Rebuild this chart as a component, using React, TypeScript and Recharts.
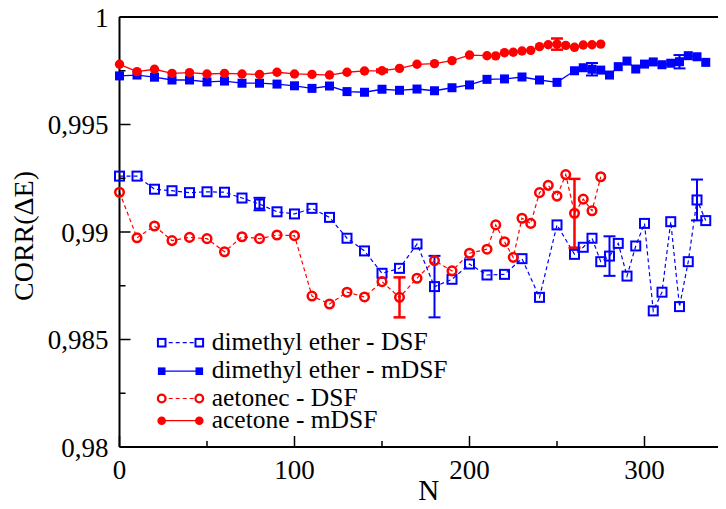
import React from 'react';
import { ComposedChart, Line, XAxis, YAxis, ErrorBar, Label } from 'recharts';

const BLUE = '#0000ff';
const RED = '#ff0000';
const FONT = "'Liberation Serif', 'Times New Roman', Times, 'DejaVu Serif', serif";

// N values (blue runs to 335, red to 275)
const nBlue = [
  0, 10, 20, 30, 40, 50, 60, 70, 80, 90, 100, 110, 120, 130, 140, 150, 160, 170, 180, 190, 200, 210,
  220, 230, 240, 250, 260, 265, 270, 275, 280, 285, 290, 295, 300, 305, 310, 315, 320, 325, 330, 335,
];
const nRed = [
  0, 10, 20, 30, 40, 50, 60, 70, 80, 90, 100, 110, 120, 130, 140, 150, 160, 170, 180, 190, 200, 210,
  215, 220, 225, 230, 235, 240, 245, 250, 255, 260, 265, 270, 275,
];

const etherDsf = [
  0.9926, 0.9926, 0.99199, 0.99192, 0.99183, 0.99187, 0.99185, 0.99158, 0.9913, 0.99094, 0.99084,
  0.9911, 0.99068, 0.98971, 0.98912, 0.98808, 0.98831, 0.98944, 0.98746, 0.9878, 0.98851, 0.988,
  0.98803, 0.98876, 0.98696, 0.99033, 0.98896, 0.98929, 0.98971, 0.98862, 0.98888, 0.98947, 0.98795,
  0.98935, 0.9904, 0.98633, 0.9872, 0.99048, 0.98653, 0.98862, 0.99149, 0.99053,
];
const etherMdsf = [
  0.99726, 0.9973, 0.9972, 0.99707, 0.99707, 0.99698, 0.99702, 0.99692, 0.99692, 0.99688, 0.9968,
  0.99668, 0.99679, 0.99653, 0.9965, 0.99664, 0.99659, 0.99665, 0.99657, 0.99671, 0.99684, 0.9971,
  0.99712, 0.99721, 0.99707, 0.99696, 0.9975, 0.99764, 0.99757, 0.99753, 0.9973, 0.99769, 0.99795,
  0.99758, 0.99781, 0.99791, 0.99778, 0.99785, 0.99792, 0.9982, 0.99815, 0.99789,
];
const acetoneDsf = [
  0.99185, 0.98973, 0.99028, 0.9896, 0.98975, 0.98969, 0.98908, 0.98978, 0.98969, 0.98986, 0.98983,
  0.98702, 0.98665, 0.9872, 0.98698, 0.98769, 0.98696, 0.98785, 0.98867, 0.98819, 0.98901, 0.9892,
  0.99033, 0.98955, 0.98882, 0.99064, 0.9904, 0.99183, 0.99217, 0.99167, 0.99267, 0.99087, 0.99153,
  0.99099, 0.99257,
];
const acetoneMdsf = [
  0.9978, 0.99746, 0.99757, 0.99738, 0.99741, 0.99735, 0.99738, 0.99735, 0.99733, 0.99743, 0.99735,
  0.99733, 0.9973, 0.99743, 0.99749, 0.9975, 0.99761, 0.9978, 0.99783, 0.99797, 0.99823, 0.9982,
  0.99819, 0.99834, 0.99836, 0.99842, 0.99845, 0.99862, 0.99871, 0.99874, 0.99868, 0.99859, 0.9987,
  0.99871, 0.99874,
];

// [N, error] pairs
const etherDsfErr: [number, number][] = [[80, 0.00029], [180, 0.00143], [280, 0.00092], [330, 0.00095]];
const etherMdsfErr: [number, number][] = [[270, 0.00029], [320, 0.00031]];
const acetoneDsfErr: [number, number][] = [[160, 0.00093], [260, 0.0016]];
const acetoneMdsfErr: [number, number][] = [[150, 0.00006], [250, 0.00026]];

const xTicks = [0, 50, 100, 150, 200, 250, 300];
const xMajor = [0, 100, 200, 300];
const yTicks = [0.98, 0.9825, 0.985, 0.9875, 0.99, 0.9925, 0.995, 0.9975, 1];
const yMajor = [0.98, 0.985, 0.99, 0.995, 1];

const seriesNames = [
  'dimethyl ether - DSF',
  'dimethyl ether - mDSF',
  'aetonec - DSF',
  'acetone - mDSF',
];

const build = (ns: number[], vs: number[], errs: [number, number][]) =>
  ns.map((n, i) => {
    const e = errs.find((p) => p[0] === n);
    return { n, v: vs[i], err: e ? e[1] : null };
  });

const etherDsfData = build(nBlue, etherDsf, etherDsfErr);
const etherMdsfData = build(nBlue, etherMdsf, etherMdsfErr);
const acetoneDsfData = build(nRed, acetoneDsf, acetoneDsfErr);
const acetoneMdsfData = build(nRed, acetoneMdsf, acetoneMdsfErr);

const isMajor = (list: number[], v: number) => list.some((m) => Math.abs(m - v) < 1e-9);
const fmt = (v: number) => String(+v.toFixed(4)).replace('.', ',');

const txt = (size: number): React.CSSProperties => ({ fontFamily: FONT, fontSize: size });

const BottomTick = (p: any) => {
  const { x, y, payload } = p;
  const major = isMajor(xMajor, payload.value);
  return (
    <g>
      <line x1={x} y1={y} x2={x} y2={y - (major ? 11 : 6)} stroke="#000" strokeWidth={1.5} />
      {major && (
        <text x={x} y={y + 32} textAnchor="middle" fill="#000" fontFamily={FONT} style={txt(27)}>
          {payload.value}
        </text>
      )}
    </g>
  );
};

const TopTick = (p: any) => {
  const { x, y, payload } = p;
  const major = isMajor(xMajor, payload.value);
  return <line x1={x} y1={y} x2={x} y2={y + (major ? 11 : 6)} stroke="#000" strokeWidth={1.5} />;
};

const LeftTick = (p: any) => {
  const { x, y, payload } = p;
  const major = isMajor(yMajor, payload.value);
  return (
    <g>
      <line x1={x} y1={y} x2={x + (major ? 11 : 6)} y2={y} stroke="#000" strokeWidth={1.5} />
      {major && (
        <text x={x - 11} y={y + 9.5} textAnchor="end" fill="#000" fontFamily={FONT} style={txt(27)}>
          {fmt(payload.value)}
        </text>
      )}
    </g>
  );
};

const RightTick = (p: any) => {
  const { x, y, payload } = p;
  const major = isMajor(yMajor, payload.value);
  return <line x1={x} y1={y} x2={x - (major ? 11 : 6)} y2={y} stroke="#000" strokeWidth={1.5} />;
};

const XTitle = (p: any) => {
  const { viewBox } = p;
  return (
    <text x={viewBox.x + viewBox.width / 2 + 3} y={viewBox.y + 53} textAnchor="middle" fill="#000" fontFamily={FONT} style={txt(29)}>
      N
    </text>
  );
};

const YTitle = (p: any) => {
  const { viewBox } = p;
  const cx = 23;
  const cy = viewBox.y + viewBox.height / 2 + 4;
  return (
    <text
      x={cx}
      y={cy}
      transform={`rotate(-90 ${cx} ${cy})`}
      textAnchor="middle"
      dominantBaseline="central"
      fill="#000"
      fontFamily={FONT}
      style={txt(28)}
    >
      CORR(ΔE)
    </text>
  );
};

const OpenSquare = (p: any) => {
  const { cx, cy, index } = p;
  if (cx == null || cy == null) return <g key={`os-${index}`} />;
  return <rect key={`os-${index}`} x={cx - 4.5} y={cy - 4.5} width={9} height={9} fill="none" stroke={BLUE} strokeWidth={2} />;
};
const FilledSquare = (p: any) => {
  const { cx, cy, index } = p;
  if (cx == null || cy == null) return <g key={`fs-${index}`} />;
  return <rect key={`fs-${index}`} x={cx - 4.5} y={cy - 4.5} width={9} height={9} fill={BLUE} />;
};
const OpenCircle = (p: any) => {
  const { cx, cy, index } = p;
  if (cx == null || cy == null) return <g key={`oc-${index}`} />;
  return <circle key={`oc-${index}`} cx={cx} cy={cy} r={4.3} fill="none" stroke={RED} strokeWidth={2.5} />;
};
const FilledCircle = (p: any) => {
  const { cx, cy, index } = p;
  if (cx == null || cy == null) return <g key={`fc-${index}`} />;
  return <circle key={`fc-${index}`} cx={cx} cy={cy} r={4.7} fill={RED} />;
};

const LegendBox = () => {
  const rowY = [342.7, 371.2, 398.5, 420.7];
  const x1 = 161.7;
  const x2 = 199.3;
  return (
    <svg width={726} height={509} style={{ position: 'absolute', left: 0, top: 0, pointerEvents: 'none' }}>
      {seriesNames.map((name, i) => {
        const y = rowY[i];
        const color = i < 2 ? BLUE : RED;
        const dashed = i % 2 === 0;
        return (
          <g key={name}>
            <line x1={x1} y1={y} x2={x2} y2={y} stroke={color} strokeWidth={1.2} strokeDasharray={dashed ? '4 3' : undefined} />
            {[x1, x2].map((mx) =>
              i === 0 ? (
                <rect key={mx} x={mx - 3.8} y={y - 3.8} width={7.6} height={7.6} fill="#fff" stroke={BLUE} strokeWidth={2} />
              ) : i === 1 ? (
                <rect key={mx} x={mx - 3.8} y={y - 3.8} width={7.6} height={7.6} fill={BLUE} />
              ) : i === 2 ? (
                <circle key={mx} cx={mx} cy={y} r={3.8} fill="#fff" stroke={RED} strokeWidth={2.3} />
              ) : (
                <circle key={mx} cx={mx} cy={y} r={4.3} fill={RED} />
              )
            )}
            <text x={211.7} y={y + 7} fill="#000" fontFamily={FONT} style={txt(25.5)}>
              {name}
            </text>
          </g>
        );
      })}
    </svg>
  );
};

export default function App() {
  return (
    <div
      style={{
        position: 'relative',
        margin: '-8px 0 0 -8px',
        width: 726,
        height: 509,
        overflow: 'hidden',
        background: '#fff',
        fontFamily: FONT,
      }}
    >
      <ComposedChart width={738} height={509} margin={{ top: 16, right: 5, bottom: 0, left: 0 }}>
        <XAxis
          xAxisId="b"
          dataKey="n"
          type="number"
          orientation="bottom"
          domain={[0, 350]}
          ticks={xTicks}
          interval={0}
          height={62}
          tickSize={0}
          tickMargin={0}
          tickLine={false}
          tick={BottomTick}
          axisLine={{ stroke: '#000', strokeWidth: 2 }}
        >
          <Label content={XTitle} />
        </XAxis>
        <XAxis
          xAxisId="t"
          dataKey="n"
          type="number"
          orientation="top"
          domain={[0, 350]}
          ticks={xTicks}
          interval={0}
          height={1}
          tickSize={0}
          tickMargin={0}
          tickLine={false}
          tick={TopTick}
          axisLine={{ stroke: '#000', strokeWidth: 2 }}
        />
        <YAxis
          yAxisId="l"
          type="number"
          orientation="left"
          domain={[0.98, 1]}
          ticks={yTicks}
          interval={0}
          width={119.5}
          tickSize={0}
          tickMargin={0}
          tickLine={false}
          tick={LeftTick}
          axisLine={{ stroke: '#000', strokeWidth: 2 }}
        >
          <Label content={YTitle} />
        </YAxis>
        <YAxis
          yAxisId="r"
          type="number"
          orientation="right"
          domain={[0.98, 1]}
          ticks={yTicks}
          interval={0}
          width={1}
          tickSize={0}
          tickMargin={0}
          tickLine={false}
          tick={RightTick}
          axisLine={{ stroke: '#000', strokeWidth: 2 }}
        />

        <Line
          data={etherDsfData}
          dataKey="v"
          xAxisId="b"
          yAxisId="l"
          type="linear"
          stroke={BLUE}
          strokeWidth={1.2}
          strokeDasharray="4 3"
          dot={OpenSquare}
          activeDot={false}
          isAnimationActive={false}
        >
          <ErrorBar dataKey="err" direction="y" width={6} stroke={BLUE} strokeWidth={2} />
        </Line>
        <Line
          data={etherMdsfData}
          dataKey="v"
          xAxisId="b"
          yAxisId="l"
          type="linear"
          stroke={BLUE}
          strokeWidth={1.3}
          dot={FilledSquare}
          activeDot={false}
          isAnimationActive={false}
        >
          <ErrorBar dataKey="err" direction="y" width={6} stroke={BLUE} strokeWidth={2} />
        </Line>
        <Line
          data={acetoneDsfData}
          dataKey="v"
          xAxisId="b"
          yAxisId="l"
          type="linear"
          stroke={RED}
          strokeWidth={1.2}
          strokeDasharray="4 3"
          dot={OpenCircle}
          activeDot={false}
          isAnimationActive={false}
        >
          <ErrorBar dataKey="err" direction="y" width={6} stroke={RED} strokeWidth={2.5} />
        </Line>
        <Line
          data={acetoneMdsfData}
          dataKey="v"
          xAxisId="b"
          yAxisId="l"
          type="linear"
          stroke={RED}
          strokeWidth={1.3}
          dot={FilledCircle}
          activeDot={false}
          isAnimationActive={false}
        >
          <ErrorBar dataKey="err" direction="y" width={6} stroke={RED} strokeWidth={2.5} />
        </Line>
      </ComposedChart>
      <LegendBox />
    </div>
  );
}
